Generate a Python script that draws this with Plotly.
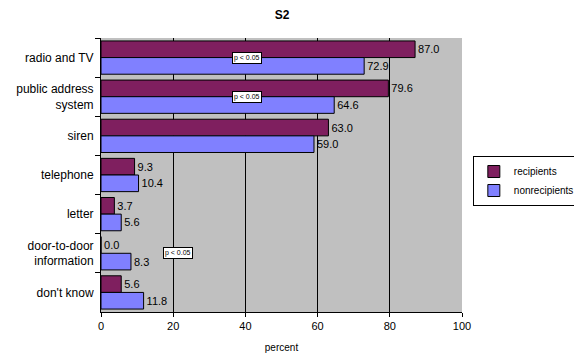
import plotly.graph_objects as go

categories = ['radio and TV', 'public address<br>system', 'siren', 'telephone',
              'letter', 'door-to-door<br>information', "don't know"]
recipients = [87.0, 79.6, 63.0, 9.3, 3.7, 0.0, 5.6]
nonrecipients = [72.9, 64.6, 59.0, 10.4, 5.6, 8.3, 11.8]
x_ticks = [0, 20, 40, 60, 80, 100]

# significance marks: (x in percent, category)
sig_marks = [(40.4, 'radio and TV'), (40.4, 'public address<br>system'),
             (21.3, 'door-to-door<br>information')]

FAM = 'Liberation Sans, Arial'
font = dict(family=FAM, size=11, color='black')

fig = go.Figure()
fig.add_trace(go.Bar(
    y=categories, x=recipients, name='recipients', orientation='h',
    marker=dict(color='#7F1F5F', line=dict(color='black', width=1)),
    text=[f'{v:.1f}' for v in recipients], textposition='outside',
    textfont=font, cliponaxis=False,
))
fig.add_trace(go.Bar(
    y=categories, x=nonrecipients, name='nonrecipients', orientation='h',
    marker=dict(color='#8080FF', line=dict(color='black', width=1)),
    text=[f'{v:.1f}' for v in nonrecipients], textposition='outside',
    textfont=font, cliponaxis=False,
))

for xv, cat in sig_marks:
    fig.add_annotation(x=xv, y=cat, xref='x', yref='y', text='p < 0.05',
                       showarrow=False, font=dict(family=FAM, size=7, color='black'),
                       bgcolor='white', bordercolor='black', borderwidth=1, borderpad=1)

# page body adds an 8px offset, so the figure is 574x354
W, H = 574, 354
fig.update_layout(
    width=W, height=H,
    margin=dict(l=93, r=120, t=30, b=50, autoexpand=False),
    paper_bgcolor='white', plot_bgcolor='#C0C0C0',
    barmode='group', bargap=0.15, bargroupgap=0,
    title=dict(text='<b>S2</b>', x=274 / W, xanchor='center', y=1 - 7 / H, yanchor='middle',
               font=dict(family=FAM, size=12, color='black')),
    font=font,
    showlegend=True,
    legend=dict(x=1.03, y=0.478, xanchor='left', yanchor='middle',
                bgcolor='white', bordercolor='black', borderwidth=1,
                font=dict(family=FAM, size=10, color='black'),
                itemwidth=30, tracegroupgap=0),
)
fig.update_xaxes(range=[0, 100], tickvals=x_ticks, showgrid=True, gridcolor='black', gridwidth=1,
                 showline=True, linecolor='black', linewidth=1, ticks='outside', ticklen=4,
                 tickcolor='black', zeroline=False, automargin=False,
                 title=dict(text='percent', font=dict(family=FAM, size=10, color='black'), standoff=12),
                 tickfont=dict(family=FAM, size=11, color='black'))
fig.update_yaxes(autorange='reversed', showgrid=False, showline=True, linecolor='black', linewidth=1,
                 ticks='outside', tickson='boundaries', ticklen=5, tickcolor='black', automargin=False,
                 ticklabelstandoff=4,
                 tickfont=dict(family=FAM, size=12, color='black'))

fig.write_html('out.html')
